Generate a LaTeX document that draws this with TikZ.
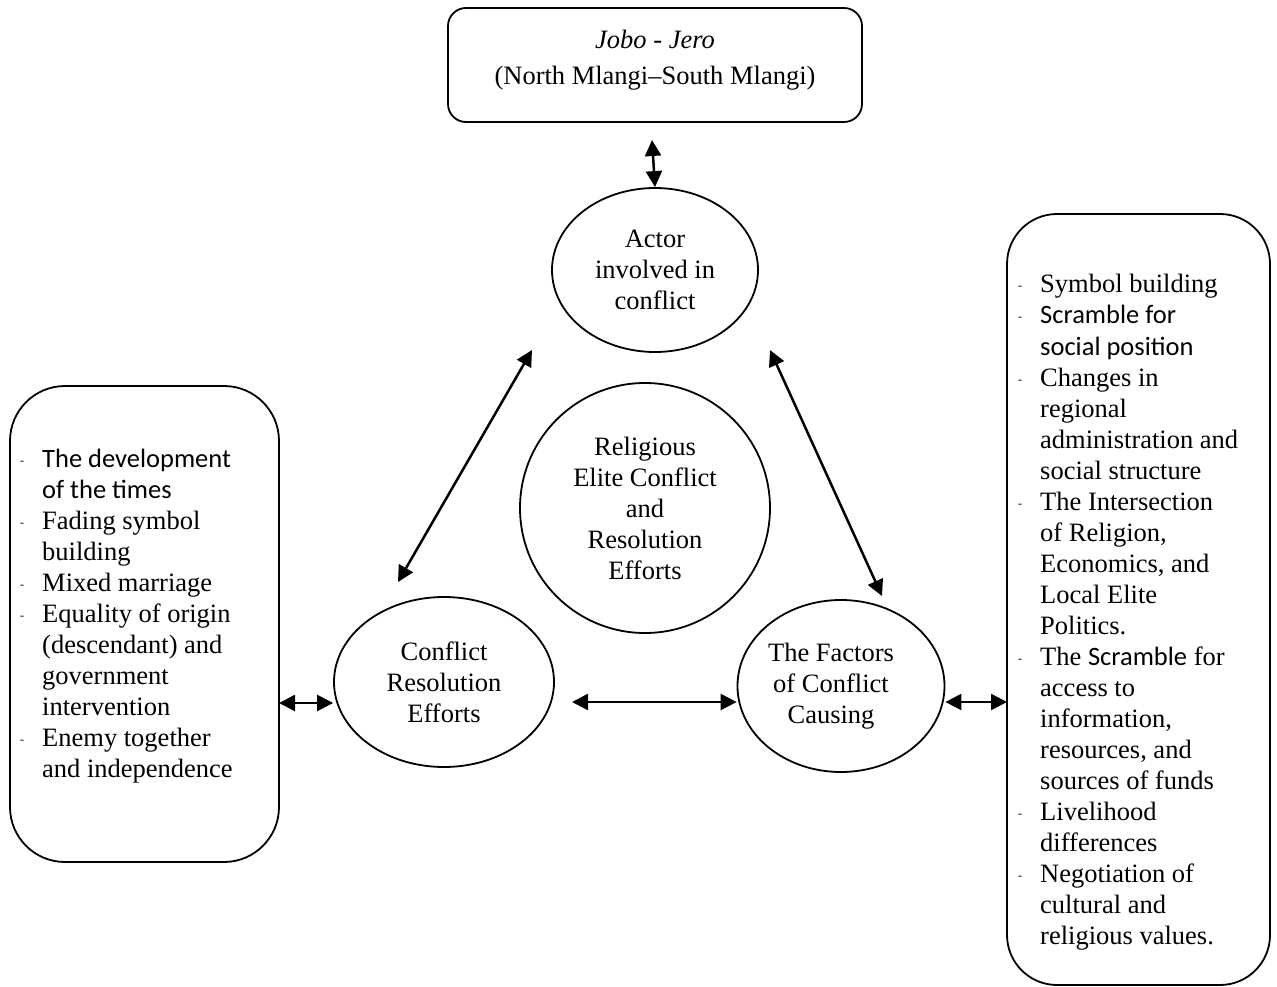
\documentclass[tikz,border=0pt]{standalone}
\usepackage{fontspec}
\setmainfont{Liberation Serif}
\newfontfamily\calfont{Carlito}
\usetikzlibrary{shapes.geometric,arrows.meta}
\newcommand\bul{\makebox[22pt][l]{\raisebox{3pt}{\fontsize{12}{12}\selectfont -}}}
\newcommand\ind{\hspace*{22pt}}
\tikzset{
  txt/.style={font=\fontsize{26.5}{31}\selectfont, inner sep=0pt},
  oval/.style={draw, line width=1.8pt, ellipse, inner sep=0pt, align=center, font=\fontsize{26.5}{31}\selectfont},
  rbox/.style={draw, line width=1.8pt},
  dbl/.style={line width=2.5pt, {Triangle[length=16pt,width=16pt]}-{Triangle[length=16pt,width=16pt]}},
}
\begin{document}
\begin{tikzpicture}[x=1pt,y=-1pt]
\useasboundingbox (0,0) rectangle (1277,987);
% boxes
\draw[rbox, rounded corners=18pt] (448,8) rectangle (862,122);
\node[txt, align=center] (top) at (655,60) {\textit{Jobo - Jero}\\[5pt](North Mlangi--South Mlangi)};
\draw[rbox, rounded corners=55pt] (10,386) rectangle (279,862);
\draw[rbox, rounded corners=50pt] (1007,214) rectangle (1270,985);
\coordinate (lbE) at (279,703);
\coordinate (rbW) at (1007,702);
\coordinate (tbS) at (652,140);
% ellipses
\node[oval, minimum width=206pt, minimum height=164pt] (actor) at (655,270) {Actor\\involved in\\conflict};
\node[oval, minimum width=250pt, minimum height=250pt] (center) at (645,508) {Religious\\Elite Conflict\\and\\Resolution\\Efforts};
\node[oval, minimum width=220pt, minimum height=170pt] (cre) at (444,682) {Conflict\\Resolution\\Efforts};
\node[oval, minimum width=207pt, minimum height=172pt] (fac) at (841,686) {};
\node[txt, align=center] (factxt) at (831,686) {The Factors\\of Conflict\\Causing};
% box texts
\node[txt, align=left, anchor=north west] (ltext) at (20,449) {%
\bul{\calfont The development}\\
\ind{\calfont of the times}\\
\bul Fading symbol\\
\ind building\\
\bul Mixed marriage\\
\bul Equality of origin\\
\ind (descendant) and\\
\ind government\\
\ind intervention\\
\bul Enemy together\\
\ind and independence};
\node[txt, align=left, anchor=north west] (rtext) at (1018,274) {%
\bul Symbol building\\
\bul{\calfont Scramble for}\\[1pt]
\ind{\calfont social position}\\
\bul Changes in\\
\ind regional\\
\ind administration and\\
\ind social structure\\
\bul The Intersection\\
\ind of Religion,\\
\ind Economics, and\\
\ind Local Elite\\
\ind Politics.\\
\bul The {\calfont Scramble} for\\
\ind access to\\
\ind information,\\
\ind resources, and\\
\ind sources of funds\\
\bul Livelihood\\
\ind differences\\
\bul Negotiation of\\
\ind cultural and\\
\ind religious values.};
% arrow endpoints
\coordinate (a1) at (532,350);
\coordinate (a2) at (398,582);
\coordinate (b1) at (770,350);
\coordinate (b2) at (882,596);
\coordinate (c1) at (572,702);
% connectors
\draw[dbl] (tbS) -- (actor.north);
\draw[dbl] (a1) -- (a2);
\draw[dbl] (b1) -- (b2);
\draw[dbl] (lbE) -- (cre.west |- lbE);
\draw[dbl] (c1) -- (fac.west |- c1);
\draw[dbl] (fac.east |- rbW) -- (rbW);
\end{tikzpicture}
\end{document}
